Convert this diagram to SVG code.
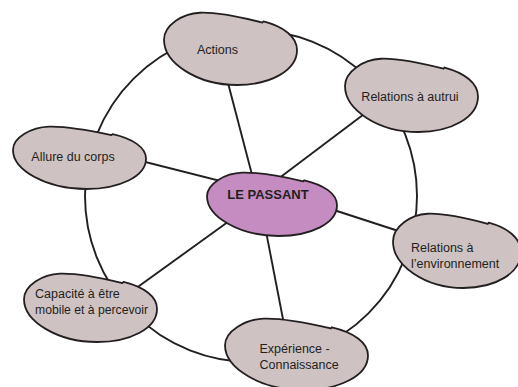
<svg xmlns="http://www.w3.org/2000/svg" xmlns:xlink="http://www.w3.org/1999/xlink" width="518" height="387" viewBox="0 0 518 387">
<style>
.blob{fill:#cfc2c2;stroke:#231f20;stroke-width:1.8;vector-effect:non-scaling-stroke;}
.center{fill:#c58cc1;}
.conn{fill:none;stroke:#231f20;stroke-width:1.9;}
.lbl{font-family:"Liberation Sans",Arial,sans-serif;font-size:12.5px;fill:#231f20;}
.bold{font-weight:bold;font-size:13px;}
</style>
<defs>
<path id="blob" d="M0,38 C0,18 14,2 27,1 C42,0 60,8 74,14.5 l0.8,-1.6 C90,20 100,34 100,52 C100,80 80,100 55,100 C25,100 0,70 0,38 Z" vector-effect="non-scaling-stroke"/>
</defs>
<rect width="518" height="387" fill="#ffffff"/>
<g id="connectors">
<circle class="conn" cx="251" cy="196" r="166"/>
<line class="conn" x1="222" y1="60" x2="256" y2="190"/>
<line class="conn" x1="400" y1="87" x2="270" y2="185"/>
<line class="conn" x1="90" y1="148" x2="260" y2="191"/>
<line class="conn" x1="300" y1="199" x2="420" y2="238"/>
<line class="conn" x1="258" y1="190" x2="288" y2="345"/>
<line class="conn" x1="110" y1="307" x2="250" y2="206"/>
</g>
<g id="node-actions">
<use href="#blob" class="blob" transform="translate(164,12) scale(1.33,0.73)"/>
<text class="lbl" x="217.5" y="54" text-anchor="middle">Actions</text>
</g>
<g id="node-autrui">
<use href="#blob" class="blob" transform="translate(345,58) scale(1.33,0.74)"/>
<text class="lbl" x="410" y="100.5" text-anchor="middle">Relations à autrui</text>
</g>
<g id="node-allure">
<use href="#blob" class="blob" transform="translate(13,126) scale(1.33,0.63)"/>
<text class="lbl" x="73" y="161" text-anchor="middle">Allure du corps</text>
</g>
<g id="node-passant">
<use href="#blob" class="blob center" transform="translate(207,172) scale(1.30,0.64)"/>
<text class="lbl bold" x="268" y="199" text-anchor="middle">LE PASSANT</text>
</g>
<g id="node-environnement">
<use href="#blob" class="blob" transform="translate(393,213) scale(1.28,0.75)"/>
<text class="lbl" x="411" y="252">Relations à</text>
<text class="lbl" x="411" y="268">l’environnement</text>
</g>
<g id="node-capacite">
<use href="#blob" class="blob" transform="translate(24,273) scale(1.33,0.69)"/>
<text class="lbl" x="35" y="297.5">Capacité à être</text>
<text class="lbl" x="35" y="313.5" style="font-size:12.2px">mobile et à percevoir</text>
</g>
<g id="node-experience">
<use href="#blob" class="blob" transform="translate(225,318) scale(1.43,0.72)"/>
<text class="lbl" x="259.5" y="353">Expérience -</text>
<text class="lbl" x="259.5" y="368.5">Connaissance</text>
</g>
</svg>
